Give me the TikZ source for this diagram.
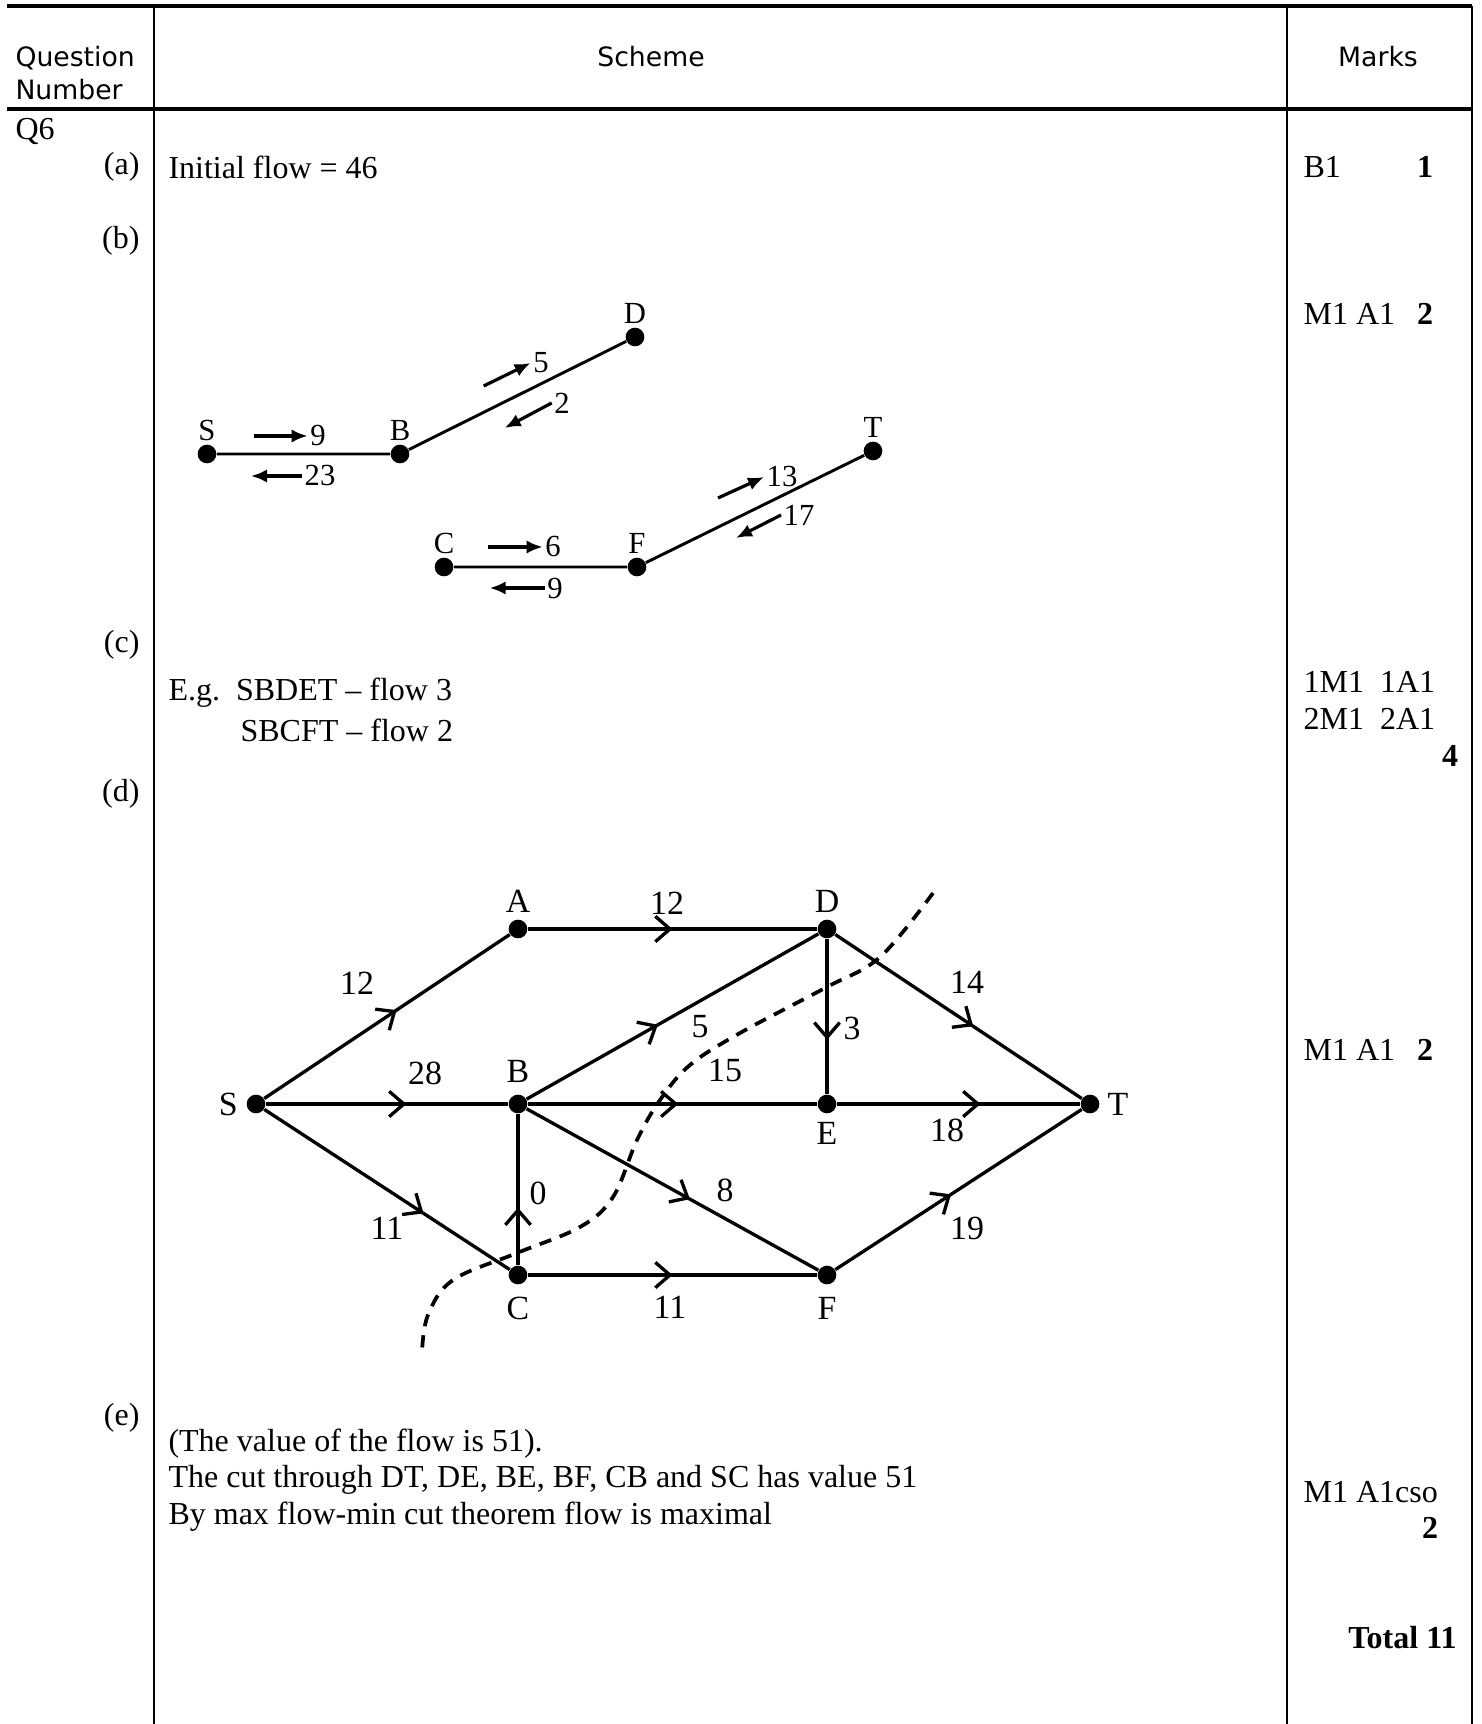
\documentclass[tikz,border=0pt]{standalone}
\usepackage{fontspec}
\setmainfont{Liberation Serif}
\newfontfamily\headfont{DejaVu Sans}
\usetikzlibrary{arrows.meta, positioning, calc, decorations.markings}
\tikzset{
  headtext/.style={
    font=\headfont\fontsize{10}{12.4}\selectfont, inner sep=0pt, align=left
  },
  bodytext/.style={
    font=\fontsize{12}{13.7}\selectfont, inner sep=0pt, anchor=west, align=left
  },
  parttext/.style={
    font=\fontsize{12}{14}\selectfont, inner sep=0pt, anchor=east
  },
  markbold/.style={
    font=\fontsize{12}{14}\selectfont\bfseries, inner sep=0pt
  },
  headline/.style={line width=1.2pt},
  gridline/.style={line width=0.8pt},
  vertex/.style={
    circle, fill=black, inner sep=0pt, minimum size=7pt
  },
  vname/.style={font=\fontsize{12.7}{14}\selectfont, inner sep=1pt},
  bname/.style={font=\fontsize{11.5}{13}\selectfont, inner sep=1pt},
  wlabel/.style={font=\fontsize{12.7}{14}\selectfont, inner sep=0pt},
  flowlabel/.style={font=\fontsize{11.5}{13}\selectfont, inner sep=0.8pt},
  pathedge/.style={line width=1.1pt},
  flowarrow/.style={-{Latex[length=6pt, width=5pt]}, line width=1.2pt},
  flowedge/.style={
    line width=1.25pt, postaction={decorate},
    decoration={markings,
      mark=at position #1 with {\arrow{Straight Barb[length=5.5pt, width=9.5pt]}}}
  },
  cutline/.style={line width=1.4pt, dash pattern=on 4.6pt off 3.4pt},
}

\begin{document}
\begin{tikzpicture}[x=0.375pt, y=-0.375pt]
  \useasboundingbox (0,0) rectangle (1481,1724);

  % Table frame
  \draw[headline] (7,6) -- (1472,6);
  \draw[headline] (7,109) -- (1472,109);
  \draw[gridline] (154,6) -- (154,1724);
  \draw[gridline] (1287,6) -- (1287,1724);
  \draw[gridline] (1472,6) -- (1472,1724);

  % Header
  \node[headtext, anchor=west] (qnum) at (15,73) {Question\\Number};
  \node[headtext] (scheme) at (651,57) {Scheme};
  \node[headtext] (marks) at (1378,57) {Marks};

  % Question and parts
  \node[bodytext] (q6) at (15,132) {Q6};
  \node[parttext] (pa) at (140,167) {(a)};
  \node[parttext] (pb) at (140,241) {(b)};
  \node[parttext] (pc) at (140,645) {(c)};
  \node[parttext] (pd) at (140,794) {(d)};
  \node[parttext] (pe) at (140,1418) {(e)};

  % Scheme texts
  \node[bodytext] (flowa) at (168,167) {Initial flow = 46};
  \node[bodytext] (routeone) at (168,693) {E.g.\ \ SBDET – flow 3};
  \node[bodytext] (routetwo) at (240,730) {SBCFT – flow 2};
  \node[bodytext] (cuttext) at (168,1480) {%
    (The value of the flow is 51).\\
    The cut through DT, DE, BE, BF, CB and SC has value 51\\
    By max flow-min cut theorem flow is maximal};

  % Marks
  \node[bodytext] (ma) at (1303,167) {B1};
  \node[markbold] (ta) at (1425,167) {1};
  \node[bodytext] (mb) at (1303,314) {M1 A1};
  \node[markbold] (tb) at (1425,314) {2};
  \node[bodytext] (mcone) at (1303,682) {1M1\ \ 1A1};
  \node[bodytext] (mctwo) at (1303,719) {2M1\ \ 2A1};
  \node[markbold] (tc) at (1450,756) {4};
  \node[bodytext] (md) at (1303,1050) {M1 A1};
  \node[markbold] (td) at (1425,1050) {2};
  \node[bodytext] (me) at (1303,1492) {M1 A1cso};
  \node[markbold] (te) at (1430,1528) {2};
  \node[markbold, anchor=east] (total) at (1457,1638) {Total 11};

  % Part (b): residual edges
  \node[vertex, label={[bname]above:S}] (bS) at (207,454) {};
  \node[vertex, label={[bname]above:B}] (bB) at (400,454) {};
  \node[vertex, label={[bname]above:D}] (bD) at (635,337) {};
  \node[vertex, label={[bname]above:C}] (bC) at (444,567) {};
  \node[vertex, label={[bname]above:F}] (bF) at (637,567) {};
  \node[vertex, label={[bname]above:T}] (bT) at (873,451) {};
  \draw[pathedge] (bS) -- (bB) -- (bD);
  \draw[pathedge] (bC) -- (bF) -- (bT);

  \node[flowlabel] (lnine) at (318,436) {9};
  \node[flowlabel] (ltwothree) at (320,476) {23};
  \node[flowlabel] (lfive) at (541,363) {5};
  \node[flowlabel] (ltwo) at (562,403) {2};
  \node[flowlabel] (lsix) at (553,547) {6};
  \node[flowlabel] (lninec) at (555,588) {9};
  \node[flowlabel] (lthirteen) at (782,477) {13};
  \node[flowlabel] (lseventeen) at (799,515) {17};

  \draw[flowarrow] (lnine.west) ++(-54,0) -- (lnine.west);
  \draw[flowarrow] (ltwothree.west) -- ++(-51,0);
  \draw[flowarrow] (lfive.west) ++(-47,23) -- (lfive.west);
  \draw[flowarrow] (ltwo.west) -- ++(-47,25);
  \draw[flowarrow] (lsix.west) ++(-55,0) -- (lsix.west);
  \draw[flowarrow] (lninec.west) -- ++(-55,0);
  \draw[flowarrow] (lthirteen.west) ++(-46,21) -- (lthirteen.west);
  \draw[flowarrow] (lseventeen.west) -- ++(-45,23);

  % Part (d): network with flows
  \node[vertex, label={[vname, label distance=2pt]left:S}] (S) at (256,1104) {};
  \node[vertex, label={[vname, label distance=1.2pt]above:A}] (A) at (518,929) {};
  \node[vertex, label={[vname, label distance=1.2pt]above:D}] (D) at (827,929) {};
  \node[vertex, label={[vname, label distance=3pt]above:B}] (B) at (518,1104) {};
  \node[vertex, label={[vname, label distance=1.8pt]below:E}] (E) at (827,1104) {};
  \node[vertex, label={[vname, label distance=1.7pt]right:T}] (T) at (1090,1104) {};
  \node[vertex, label={[vname, label distance=3.3pt]below:C}] (C) at (518,1275) {};
  \node[vertex, label={[vname, label distance=3.3pt]below:F}] (F) at (827,1275) {};

  \draw[flowedge=0.54] (S) -- (A);
  \draw[flowedge=0.50] (A) -- (D);
  \draw[flowedge=0.58] (S) -- (B);
  \draw[flowedge=0.65] (S) -- (C);
  \draw[flowedge=0.45] (B) -- (D);
  \draw[flowedge=0.52] (B) -- (E);
  \draw[flowedge=0.56] (B) -- (F);
  \draw[flowedge=0.38] (C) -- (B);
  \draw[flowedge=0.50] (C) -- (F);
  \draw[flowedge=0.65] (D) -- (E);
  \draw[flowedge=0.56] (D) -- (T);
  \draw[flowedge=0.59] (E) -- (T);
  \draw[flowedge=0.47] (F) -- (T);

  \node[wlabel] (wSA) at (357,983) {12};
  \node[wlabel] (wAD) at (667,903) {12};
  \node[wlabel] (wSB) at (425,1073) {28};
  \node[wlabel] (wSC) at (387,1228) {11};
  \node[wlabel] (wBD) at (700,1027) {5};
  \node[wlabel] (wBE) at (725,1070) {15};
  \node[wlabel] (wBF) at (725,1190) {8};
  \node[wlabel] (wCB) at (538,1193) {0};
  \node[wlabel] (wCF) at (670,1307) {11};
  \node[wlabel] (wDE) at (852,1028) {3};
  \node[wlabel] (wDT) at (967,982) {14};
  \node[wlabel] (wET) at (947,1130) {18};
  \node[wlabel] (wFT) at (967,1228) {19};

  % Minimum cut
  \draw[cutline] plot[smooth, tension=0.6] coordinates {
    (933,893) (880,957) (825,988) (740,1033) (690,1065) (660,1100)
    (637,1140) (613,1197) (580,1227) (517,1253) (453,1280) (428,1315)
    (422,1352)};
\end{tikzpicture}
\end{document}
